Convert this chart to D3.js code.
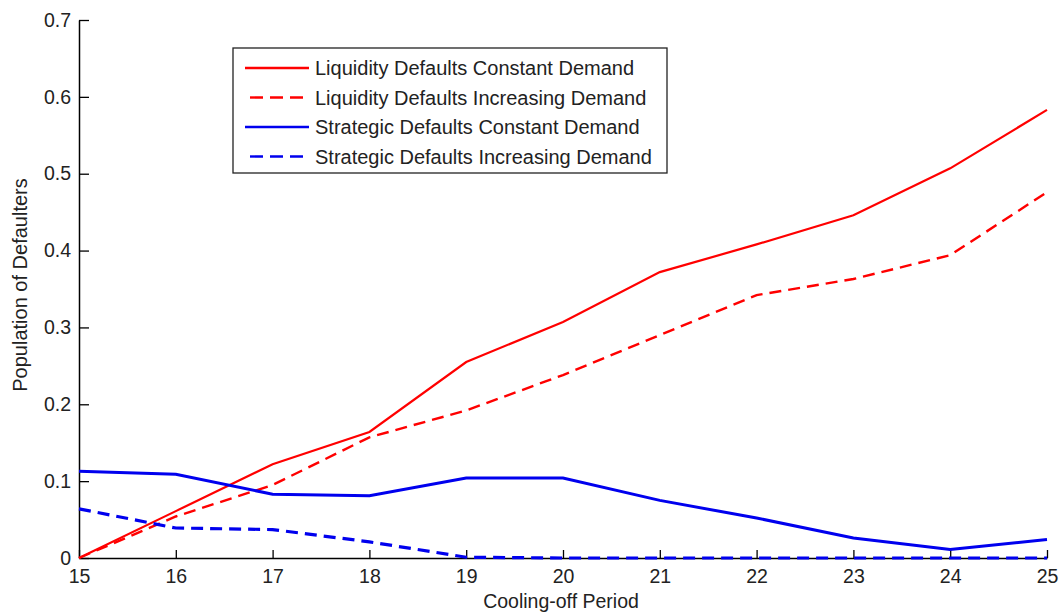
<!DOCTYPE html>
<html>
<head>
<meta charset="utf-8">
<script src="https://cdn.jsdelivr.net/npm/d3@7"></script>
<style>
  body { margin: 0; background: #fff; }
  text { font-family: "Liberation Sans", Arial, sans-serif; fill: #222; }
</style>
</head>
<body>
<div id="chart"></div>
<script>
// cooling-off periods on the x axis
let periods = [15, 16, 17, 18, 19, 20, 21, 22, 23, 24, 25];

// values
let liqConstant   = [0, 0.061, 0.122, 0.164, 0.255, 0.307, 0.372, 0.408, 0.446, 0.507, 0.583];
let liqIncreasing = [0, 0.054, 0.095, 0.157, 0.192, 0.238, 0.290, 0.342, 0.363, 0.394, 0.476];
let strConstant   = [0.113, 0.109, 0.083, 0.081, 0.104, 0.104, 0.075, 0.052, 0.026, 0.011, 0.024];
let strIncreasing = [0.064, 0.039, 0.037, 0.021, 0.001, 0, 0, 0, 0, 0, 0];

let yTicks = [0, 0.1, 0.2, 0.3, 0.4, 0.5, 0.6, 0.7];

let seriesNames = [
    "Liquidity Defaults Constant Demand",
    "Liquidity Defaults Increasing Demand",
    "Strategic Defaults Constant Demand",
    "Strategic Defaults Increasing Demand"
];

let width = 1060, height = 616;
let margin = {top: 20, right: 13, bottom: 58, left: 79};

let svg = d3.select("#chart")
    .append("svg")
    .attr("width", width)
    .attr("height", height);

let plot = svg.append("g")
    .attr("transform", `translate(${margin.left}, ${margin.top})`);

let plotW = width - margin.left - margin.right;
let plotH = height - margin.top - margin.bottom;

let x = d3.scaleLinear().domain([15, 25]).range([0, plotW]);
let y = d3.scaleLinear().domain([0, 0.7]).range([plotH, 0]);

// axes with ticks pointing inward, like the matlab figure
let xAxis = plot.append("g")
    .attr("transform", `translate(0, ${plotH})`)
    .call(d3.axisBottom(x).tickValues(periods).tickFormat(d3.format("d"))
        .tickSizeInner(-8).tickSizeOuter(0).tickPadding(11));
let yAxis = plot.append("g")
    .call(d3.axisLeft(y).tickValues(yTicks).tickFormat(d => d === 0 ? "0" : d3.format(".1f")(d))
        .tickSizeInner(-10).tickSizeOuter(0).tickPadding(8));

[xAxis, yAxis].forEach(function(ax) {
    ax.select(".domain").attr("stroke", "#000").attr("stroke-width", 1.5);
    ax.selectAll(".tick line").attr("stroke", "#000").attr("stroke-width", 1.3);
    ax.selectAll(".tick text")
        .style("font-size", "19.5px")
        .style("font-family", "'Liberation Sans', Arial, sans-serif")
        .attr("fill", "#222");
});

// Build line data from the arrays
let series = [
    {name: seriesNames[0], values: liqConstant,   color: "#ff0000", dash: null,   width: 2.2},
    {name: seriesNames[1], values: liqIncreasing, color: "#ff0000", dash: "12,7", width: 2.4},
    {name: seriesNames[2], values: strConstant,   color: "#0000ee", dash: null,   width: 3},
    {name: seriesNames[3], values: strIncreasing, color: "#0000ee", dash: "12,7", width: 3.2}
];

let line = d3.line()
    .x(function(d, i) { return x(periods[i]); })
    .y(function(d) { return y(d); });

plot.selectAll("path.series")
    .data(series)
    .enter()
    .append("path")
    .attr("class", "series")
    .attr("fill", "none")
    .attr("stroke", d => d.color)
    .attr("stroke-width", d => d.width)
    .attr("stroke-dasharray", d => d.dash)
    .attr("d", d => line(d.values));

// Legend box
let legend = svg.append("g").attr("transform", "translate(233, 48)");
legend.append("rect")
    .attr("width", 434)
    .attr("height", 125)
    .attr("fill", "#fff")
    .attr("stroke", "#222")
    .attr("stroke-width", 1.3);

let rows = legend.selectAll("g.row")
    .data(series)
    .enter()
    .append("g")
    .attr("class", "row")
    .attr("transform", function(d, i) { return `translate(0, ${20 + i * 29.5})`; });

rows.append("line")
    .attr("x1", d => d.dash ? 17 : 12)
    .attr("x2", 76)
    .attr("stroke", d => d.color)
    .attr("stroke-width", 2.4)
    .attr("stroke-dasharray", d => d.dash ? "13,7" : null);

rows.append("text")
    .attr("x", 82)
    .attr("dy", "0.36em")
    .style("font-size", "20px")
    .text(d => d.name);

// Axis titles
svg.append("text")
    .attr("transform", "translate(561, 608)")
    .style("text-anchor", "middle")
    .style("font-size", "19.5px")
    .text("Cooling-off Period");

svg.append("text")
    .attr("transform", "translate(27, 285) rotate(-90)")
    .style("text-anchor", "middle")
    .style("font-size", "20px")
    .text("Population of Defaulters");
</script>
</body>
</html>
